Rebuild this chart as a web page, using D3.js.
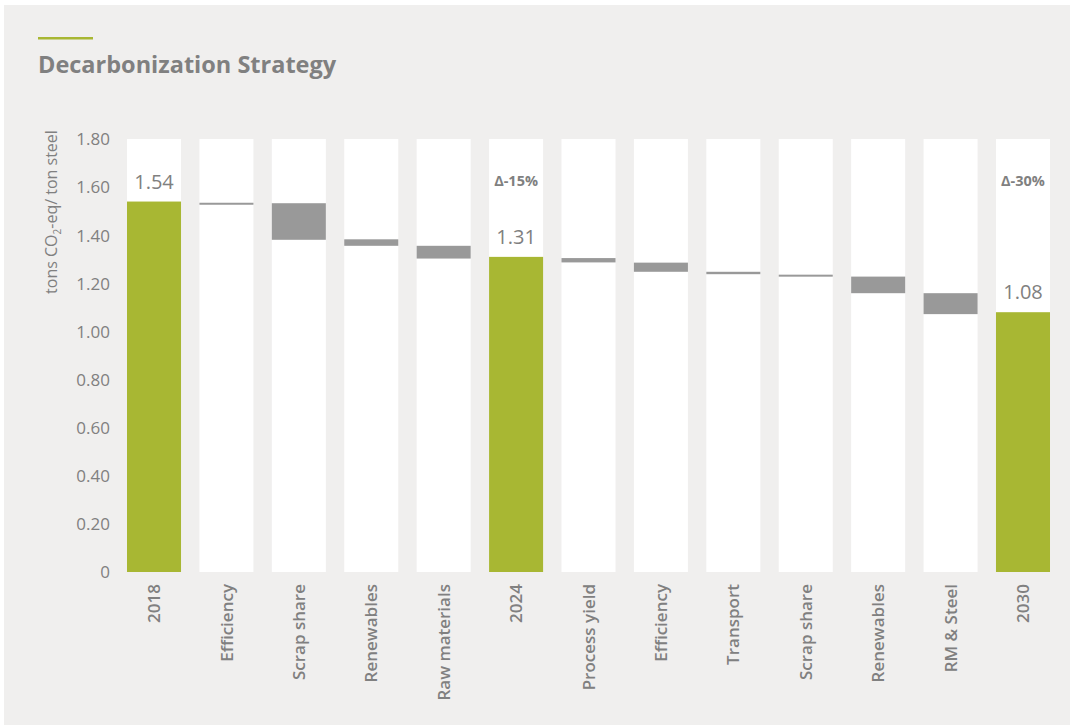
<!DOCTYPE html>
<html><head><meta charset="utf-8">
<script src="https://cdn.jsdelivr.net/npm/d3@7"></script>
<style>html,body{margin:0;padding:0;background:#fff;}svg{display:block;}</style>
</head><body>
<script>
// Data
const categories = ["2018","Efficiency","Scrap share","Renewables","Raw materials","2024","Process yield","Efficiency","Transport","Scrap share","Renewables","RM & Steel","2030"];
const totalValues = [1.54, null, null, null, null, 1.31, null, null, null, null, null, null, 1.08];
const stepHigh = [null, 1.535, 1.533, 1.383, 1.356, null, 1.305, 1.286, 1.248, 1.236, 1.228, 1.159, null];
const stepLow  = [null, 1.527, 1.381, 1.356, 1.303, null, 1.287, 1.248, 1.238, 1.228, 1.159, 1.072, null];
const deltaLabels = [null, null, null, null, null, "Δ-15%", null, null, null, null, null, null, "Δ-30%"];
const yTicks = [0, 0.2, 0.4, 0.6, 0.8, 1.0, 1.2, 1.4, 1.6, 1.8];
const yMax = 1.8;

const W = 1070, H = 725;
const green = "#a8b733", grey = "#999999", textGrey = "#808080", bg = "#f0efee";
const font = "'Open Sans', 'Noto Sans', sans-serif";

const svg = d3.select("body").append("svg").attr("width", W).attr("height", H);
svg.append("rect").attr("x", 4).attr("y", 5).attr("width", W - 4).attr("height", H - 5).attr("fill", bg);

// Title
svg.append("rect").attr("x", 38).attr("y", 37).attr("width", 55).attr("height", 2.5).attr("fill", green);
svg.append("text").attr("x", 38).attr("y", 73).attr("font-family", font).attr("font-weight", 700)
  .attr("font-size", 23.5).attr("fill", textGrey).text("Decarbonization Strategy");

const x = d3.scaleBand().domain(d3.range(categories.length)).range([127 - 9.2, 1050 + 9.2]).paddingInner(0.254).paddingOuter(0.127);
const y = d3.scaleLinear().domain([0, yMax]).range([572, 139]);

const g = svg.append("g");

// white columns
g.selectAll("rect.col").data(categories).join("rect").attr("class", "col")
  .attr("x", (d, i) => x(i)).attr("width", x.bandwidth())
  .attr("y", y(yMax)).attr("height", y(0) - y(yMax)).attr("fill", "#ffffff");

// totals
const totals = totalValues.map((v, i) => ({v, i})).filter(d => d.v != null);
g.selectAll("rect.tot").data(totals).join("rect").attr("class", "tot")
  .attr("x", d => x(d.i)).attr("width", x.bandwidth())
  .attr("y", d => y(d.v)).attr("height", d => y(0) - y(d.v)).attr("fill", green);
g.selectAll("text.totlab").data(totals).join("text").attr("class", "totlab")
  .attr("x", d => x(d.i) + x.bandwidth() / 2).attr("y", d => y(d.v) - 13)
  .attr("text-anchor", "middle").attr("font-family", font).attr("font-size", 20)
  .attr("fill", textGrey).text(d => d.v.toFixed(2));

// steps
const steps = stepHigh.map((h, i) => ({h, l: stepLow[i], i})).filter(d => d.h != null);
g.selectAll("rect.step").data(steps).join("rect").attr("class", "step")
  .attr("x", d => x(d.i)).attr("width", x.bandwidth())
  .attr("y", d => y(d.h)).attr("height", d => Math.max(2, y(d.l) - y(d.h))).attr("fill", grey);

// delta labels
const deltas = deltaLabels.map((t, i) => ({t, i})).filter(d => d.t);
g.selectAll("text.delta").data(deltas).join("text").attr("class", "delta")
  .attr("x", d => x(d.i) + x.bandwidth() / 2).attr("y", 186)
  .attr("text-anchor", "middle").attr("font-family", font).attr("font-weight", 700).attr("font-size", 14.5)
  .attr("fill", textGrey).text(d => d.t);

// y axis
const yAxis = d3.axisLeft(y).tickValues(yTicks).tickSize(0).tickPadding(0)
  .tickFormat(d => d === 0 ? "0" : d.toFixed(2));
const ya = svg.append("g").attr("transform", "translate(110,0)").call(yAxis);
ya.select(".domain").remove();
ya.selectAll("text").attr("font-family", font).attr("font-size", 17).attr("fill", textGrey).attr("dy", "0.34em");

// x axis
const xAxis = d3.axisBottom(x).tickSize(0).tickPadding(0).tickFormat(i => categories[i]);
const xa = svg.append("g").attr("transform", "translate(0,572)").call(xAxis);
xa.select(".domain").remove();
xa.selectAll("text").attr("font-family", font).attr("font-size", 17).attr("font-weight", 600).attr("fill", textGrey)
  .attr("transform", "rotate(-90)").attr("text-anchor", "end").attr("x", -12).attr("y", 0).attr("dy", "0.36em");

// y axis title
const yt = svg.append("text").attr("transform", "translate(57,212) rotate(-90)").attr("text-anchor", "middle")
  .attr("font-family", font).attr("font-size", 16).attr("fill", textGrey);
yt.append("tspan").text("tons CO");
yt.append("tspan").attr("font-size", 10).attr("dy", 4).text("2");
yt.append("tspan").attr("dy", -4).text("-eq/ ton steel");
</script>
</body></html>
